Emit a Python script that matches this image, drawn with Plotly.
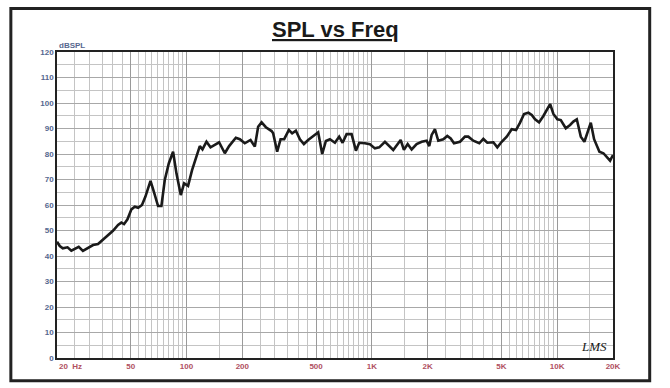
import plotly.graph_objects as go

freq_hz = [20, 20.7, 21.5, 22.8, 23.9, 25.1, 26.2, 27.6, 29.4, 31.3, 33.3, 35.4, 37.7, 40.1,
           42.7, 44.5, 46.0, 48.0, 50.4, 52.6, 54.8, 57.5, 60.0, 63.9, 66.6, 70.2, 73.2, 76.3,
           80.2, 84.6, 88.2, 93.1, 97.0, 101.9, 107.1, 113.1, 117.9,
           121.9, 128.1, 134.7, 143.9, 149.9, 160.9, 169.7, 184.5, 193.9, 206.2, 221.4, 233.6,
           243.4, 254.0, 268.0, 287.6, 293.4, 308.3, 321.6, 336.4, 356.6, 371.5, 389.0, 408.9,
           429.7, 453.2, 482.3, 513.2, 539.5, 564.9, 593.8, 631.8, 666.2, 695.0,
           730.5, 777.2, 820.2, 854.5, 917.0, 976.0, 1038.7, 1095.8, 1176.4, 1241, 1304, 1430,
           1489, 1560, 1639, 1744, 1857, 1975, 2040, 2102, 2190, 2282, 2428, 2552, 2662, 2774,
           2989, 3180, 3313, 3526, 3798,
           3993, 4197, 4522, 4752, 5018, 5342, 5683, 5996, 6302, 6622, 6986, 7289, 7595, 7981,
           8420, 8786, 9155, 9538, 10020, 10453, 11125, 11736, 12226, 12756, 13405, 14018,
           14733, 15180, 15814, 16892, 17752, 18516, 19290, 20000]

spl_db = [45.6, 43.9, 43.0, 43.4, 42.1, 43.0, 43.6, 42.0, 43.0, 44.3, 44.7, 46.3, 48.2, 49.9,
          52.2, 53.1, 52.5, 54.4, 58.3, 59.3, 58.9, 60.0, 63.3, 69.5, 65.2, 59.6, 59.6, 69.8,
          76.3, 80.9, 72.4, 63.9, 68.5, 67.5, 73.7, 79.6, 83.1,
          81.8, 84.8, 82.6, 83.8, 84.6, 80.3, 83.1, 86.4, 85.8, 84.2, 85.5, 82.9,
          90.7, 92.4, 90.5, 89.0, 88.1, 80.9, 85.8, 85.8, 89.4, 88.1, 89.1, 85.8,
          83.9, 85.5, 87.1, 88.5, 80.0, 85.1, 85.8, 84.4, 86.8, 84.4,
          87.8, 87.8, 81.3, 84.4, 84.2, 83.8, 82.2, 82.6, 84.8, 83.1, 81.6, 85.5,
          81.6, 83.9, 81.8, 83.9, 84.8, 85.2, 83.1, 87.5, 89.7, 85.2, 85.8, 87.1, 86.1, 84.2,
          84.8, 86.8, 86.8, 85.2, 84.2,
          85.9, 84.4, 84.6, 82.6, 84.8, 86.8, 89.7, 89.4, 92.3, 95.7, 96.2, 95.3, 93.6, 92.4,
          94.9, 97.5, 99.6, 95.7, 93.6, 93.3, 90.1, 91.4, 92.7, 93.6, 86.8, 84.8,
          89.7, 92.3, 85.8, 80.9, 80.3, 79.0, 77.4, 79.6]

x_tick_vals = [20, 50, 100, 200, 500, 1000, 2000, 5000, 10000, 20000]
x_tick_text = ["", "50", "100", "200", "500", "1K", "2K", "5K", "10K", "20K"]
y_tick_vals = list(range(0, 121, 10))
y_tick_text = [str(v) for v in y_tick_vals]

# minor grid: 5 Hz steps to 100, 50 Hz to 1K, 500 Hz to 10K, 5K to 20K
x_minor = (list(range(20, 100, 5)) + list(range(100, 1000, 50))
           + list(range(1000, 10000, 500)) + list(range(10000, 20001, 5000)))
y_minor = list(range(0, 121, 5))

AX_BLUE = "#55678f"
AX_RED = "#b0505f"
FONT = "Liberation Sans"

fig = go.Figure()
fig.add_trace(go.Scatter(x=freq_hz, y=spl_db, mode="lines",
                         line=dict(color="#1a1a1a", width=2.6), hoverinfo="skip"))

fig.update_layout(
    width=670, height=388,
    margin=dict(l=57, r=57, t=52, b=30),
    paper_bgcolor="white", plot_bgcolor="white",
    showlegend=False,
    font=dict(family=FONT),
)
fig.update_xaxes(
    type="log", range=[1.30103, 4.30103],
    tickmode="array", tickvals=x_tick_vals, ticktext=x_tick_text,
    showgrid=True, gridcolor="#9a9a9a", gridwidth=1,
    minor=dict(tickmode="array", tickvals=x_minor, showgrid=True,
               gridcolor="#c4c4c4", gridwidth=1, ticks=""),
    ticks="", tickfont=dict(size=8, color=AX_RED, family=FONT, weight="bold"),
    showline=True, linecolor="#222222", linewidth=1.5, mirror=True,
    zeroline=False,
)
fig.update_yaxes(
    range=[0, 120],
    tickmode="array", tickvals=y_tick_vals, ticktext=y_tick_text,
    showgrid=True, gridcolor="#a8a8a8", gridwidth=1,
    minor=dict(tickmode="array", tickvals=y_minor, showgrid=True,
               gridcolor="#c4c4c4", gridwidth=1, ticks=""),
    ticks="", tickfont=dict(size=8, color=AX_BLUE, family=FONT, weight="bold"),
    showline=True, linecolor="#222222", linewidth=1.5, mirror=True,
    zeroline=False,
)

# outer frame
fig.add_shape(type="rect", xref="paper", yref="paper",
              x0=-0.083, x1=1.066, y0=-0.074, y1=1.142,
              line=dict(color="#222222", width=3), fillcolor="rgba(0,0,0,0)", layer="above")

fig.add_annotation(text="<b><u>SPL vs Freq</u></b>", xref="paper", yref="paper",
                   x=0.5, y=1.072, xanchor="center", yanchor="middle", showarrow=False,
                   font=dict(size=22, color="#1a1a1a", family=FONT))
fig.add_annotation(text="<b>dBSPL</b>", xref="paper", yref="paper",
                   x=0.0, y=1.02, xanchor="left", yanchor="middle", showarrow=False,
                   font=dict(size=8, color=AX_BLUE, family=FONT))
fig.add_annotation(text="<b>20  Hz</b>", xref="paper", yref="paper",
                   x=0.0, y=-0.027, xanchor="left", yanchor="middle", showarrow=False,
                   font=dict(size=8, color=AX_RED, family=FONT))
fig.add_annotation(text="<i>LMS</i>", xref="paper", yref="paper",
                   x=0.966, y=0.036, xanchor="center", yanchor="middle", showarrow=False,
                   font=dict(size=13, color="#1a1a1a", family="Liberation Serif"))

fig.write_html("out.html", config={"displayModeBar": False},
               post_script="document.body.style.margin='0px';")
